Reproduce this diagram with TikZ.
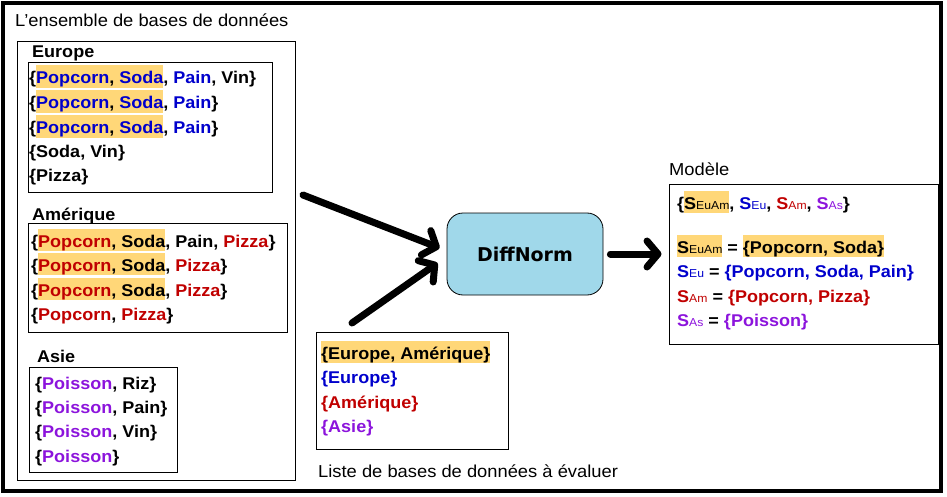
\documentclass[tikz,border=0pt]{standalone}
\usepackage{fontspec}
\setmainfont{Liberation Sans}[FakeStretch=1.06]
\newfontfamily\dnfont{DejaVu Sans}
\usetikzlibrary{arrows.meta}
\definecolor{hl}{RGB}{255,215,120}
\definecolor{ceu}{RGB}{0,0,204}
\definecolor{cam}{RGB}{192,0,0}
\definecolor{cas}{RGB}{140,20,220}
\definecolor{dnfill}{RGB}{160,216,234}
\newcommand\hlt[1]{{\setlength{\fboxsep}{0pt}\colorbox{hl}{\rule[-3.5pt]{0pt}{22pt}#1}}}
\newcommand\ceu[1]{\textcolor{ceu}{#1}}
\newcommand\cam[1]{\textcolor{cam}{#1}}
\newcommand\cas[1]{\textcolor{cas}{#1}}
\newcommand\subx[1]{{\fontsize{11.5}{12}\selectfont\mdseries #1}}
\begin{document}
\begin{tikzpicture}[x=1pt,y=-1pt,
  txt/.style={anchor=base west, inner sep=0pt, font=\fontsize{17}{20}\selectfont\bfseries},
  lbl/.style={anchor=base west, inner sep=0pt, font=\fontsize{17.3}{20}\selectfont},
  box/.style={draw, line width=1pt, inner sep=0pt},
  arr/.style={line width=7pt, line cap=round, -{Straight Barb[round,length=11pt,width=26pt]}}]
\useasboundingbox (0,0) rectangle (947,497);
\draw[line width=3.5pt] (3,3) rectangle (941,491);
% left big box
\node[box, minimum width=278pt, minimum height=438pt] (ens) at (156,261) {};
\node[lbl] (tens) at (15,27) {L’ensemble de bases de données};
% Europe
\node[txt] (leu) at (32,58) {Europe};
\node[box, minimum width=244pt, minimum height=130pt] (eubox) at (150,128) {};
\node[txt] (e1) at (29,84) {\{\hlt{\ceu{Popcorn}, \ceu{Soda}}, \ceu{Pain}, Vin\}};
\node[txt] (e2) at (29,109) {\{\hlt{\ceu{Popcorn}, \ceu{Soda}}, \ceu{Pain}\}};
\node[txt] (e3) at (29,134) {\{\hlt{\ceu{Popcorn}, \ceu{Soda}}, \ceu{Pain}\}};
\node[txt] (e4) at (29,158) {\{Soda, Vin\}};
\node[txt] (e5) at (29,182) {\{Pizza\}};
% Amerique
\node[txt] (lam) at (32,220) {Amérique};
\node[box, minimum width=259pt, minimum height=109pt] (ambox) at (157.5,277.5) {};
\node[txt] (a1) at (31,247) {\{\hlt{\cam{Popcorn}, Soda}, Pain, \cam{Pizza}\}};
\node[txt] (a2) at (31,271.5) {\{\hlt{\cam{Popcorn}, Soda}, \cam{Pizza}\}};
\node[txt] (a3) at (31,296) {\{\hlt{\cam{Popcorn}, Soda}, \cam{Pizza}\}};
\node[txt] (a4) at (31,320.5) {\{\cam{Popcorn}, \cam{Pizza}\}};
% Asie
\node[txt] (las) at (37,362) {Asie};
\node[box, minimum width=148pt, minimum height=105pt] (asbox) at (103,419.5) {};
\node[txt] (s1) at (35,389) {\{\cas{Poisson}, Riz\}};
\node[txt] (s2) at (35,413) {\{\cas{Poisson}, Pain\}};
\node[txt] (s3) at (35,437.5) {\{\cas{Poisson}, Vin\}};
\node[txt] (s4) at (35,462) {\{\cas{Poisson}\}};
% middle list
\node[box, minimum width=192pt, minimum height=117pt] (lst) at (412,390.5) {};
\node[txt] (l1) at (321,359) {\hlt{\{Europe, Amérique\}}};
\node[txt] (l2) at (321,383.5) {\ceu{\{Europe\}}};
\node[txt] (l3) at (321,408) {\cam{\{Amérique\}}};
\node[txt] (l4) at (321,432.5) {\cas{\{Asie\}}};
\node[lbl] (tlst) at (318,477) {Liste de bases de données à évaluer};
% DiffNorm
\node[draw, line width=0.8pt, rounded corners=16pt, fill=dnfill, minimum width=156pt, minimum height=82pt, font=\dnfont\bfseries\fontsize{19}{24}\selectfont] (dn) at (525,254) {DiffNorm};
% Model
\node[lbl] (tmod) at (669,176) {Modèle};
\node[box, minimum width=269pt, minimum height=159pt] (mod) at (803.5,264.5) {};
\node[txt] (m1) at (677,209) {\{\hlt{S\subx{EuAm}}, \ceu{S\subx{Eu}}, \cam{S\subx{Am}}, \cas{S\subx{As}}\}};
\node[txt] (m2) at (677,253) {\hlt{S\subx{EuAm}} = \hlt{\{Popcorn, Soda\}}};
\node[txt] (m3) at (677,277.5) {\ceu{S\subx{Eu}} = \ceu{\{Popcorn, Soda, Pain\}}};
\node[txt] (m4) at (677,302) {\cam{S\subx{Am}} = \cam{\{Popcorn, Pizza\}}};
\node[txt] (m5) at (677,326.5) {\cas{S\subx{As}} = \cas{\{Poisson\}}};
% arrows
\coordinate (a1s) at (303,195);
\coordinate (a2s) at (352,323);
\draw[arr] (a1s) -- ([shift={(-7,-6)}]dn.west);
\draw[arr] (a2s) -- ([shift={(-9,9)}]dn.west);
\draw[arr] ([xshift=7pt]dn.east) -- ([xshift=-7pt]mod.west |- dn.east);
\end{tikzpicture}
\end{document}
